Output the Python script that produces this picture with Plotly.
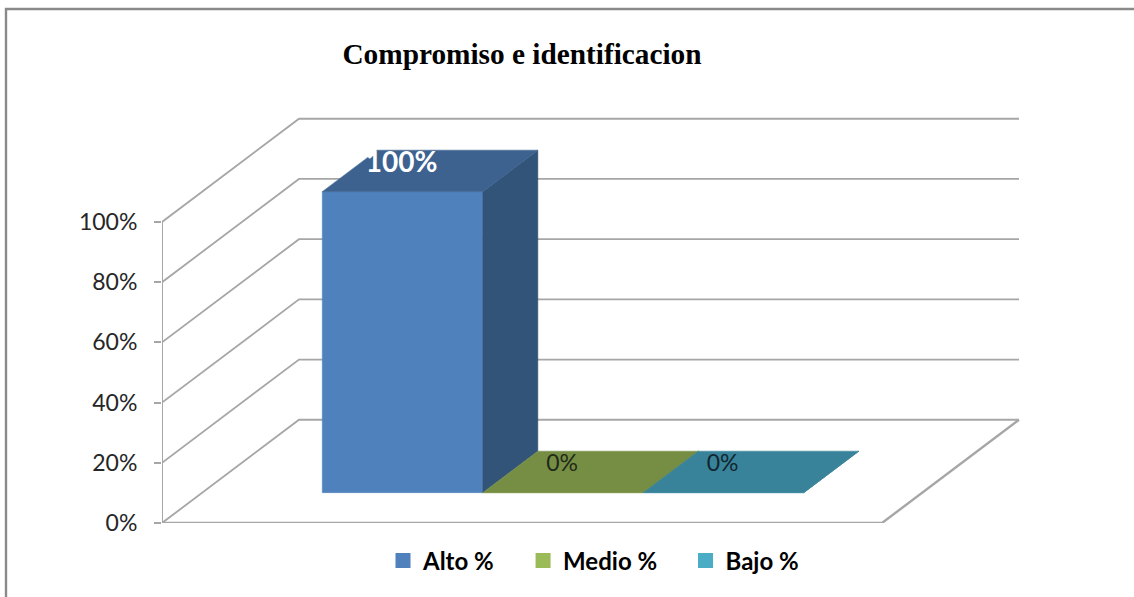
import plotly.graph_objects as go

# ---- data ----
series = ["Alto %", "Medio %", "Bajo %"]
values = [100, 0, 0]
value_labels = ["100%", "0%", "0%"]
tick_vals = [0, 20, 40, 60, 80, 100]
tick_text = ["0%", "20%", "40%", "60%", "80%", "100%"]
front_colors = ["#4F81BD", "#9BBB59", "#4BACC6"]
side_colors = ["#325479", "#617A39", "#2F7C90"]
top_colors = ["#3D628F", "#768E44", "#38839A"]
label_colors = ["#FFFFFF", "#1F2A1A", "#12262E"]
label_sizes = [28, 23, 23]
label_weights = ["bold", "normal", "normal"]
title_text = "Compromiso e identificacion"

# ---- oblique projection of the fake 3-D scene ----
UNIT_PX = 160.5           # one bar width in pixels
PLOT_W = 972
TOP_PX = 100              # plot area top, in pixels
BOTTOM_PX = 523           # plot area bottom, in pixels
Y_TOP = (BOTTOM_PX - TOP_PX) / 3.01
GRID_COLOR = "#A6A6A6"
DX = 137 / UNIT_PX        # x shift of the full floor depth
DY = 34.3                 # y shift of the full floor depth, in % units
FLOOR_W = 720 / UNIT_PX
BACK_W = 720 / UNIT_PX
GAP = 120 / UNIT_PX
D0, D1 = 0.294, 0.696     # bar front and back depth


def project(u, v, d):
    return u + d * DX, v + d * DY


def poly(points):
    xs, ys = zip(*[project(*p) for p in points])
    return list(xs) + [xs[0]], list(ys) + [ys[0]]


fig = go.Figure()

# walls and floor
gx, gy = [], []
for v in tick_vals:
    a = project(0, v, 0)
    b = project(0, v, 1)
    c = project(BACK_W, v, 1)
    gx += [a[0], b[0], c[0], None]
    gy += [a[1], b[1], c[1], None]
fig.add_trace(go.Scatter(x=gx, y=gy, mode="lines", cliponaxis=False, showlegend=False,
                         hoverinfo="skip", line=dict(color=GRID_COLOR, width=1.8)))
fx, fy = zip(*[project(0, 0, 0), project(FLOOR_W, 0, 0), project(FLOOR_W, 0, 1)])
fig.add_trace(go.Scatter(x=list(fx), y=list(fy), mode="lines", cliponaxis=False, showlegend=False,
                         hoverinfo="skip", line=dict(color=GRID_COLOR, width=2.4)))
# value axis line, only as far as the last tick
fig.add_trace(go.Scatter(x=[0, 0], y=[tick_vals[0], tick_vals[-1]], mode="lines", cliponaxis=False,
                         showlegend=False, hoverinfo="skip", line=dict(color=GRID_COLOR, width=2)))

# bars
for i, val in enumerate(values):
    u0, u1 = GAP + i, GAP + i + 1
    faces = [
        ([(u0, 0, D0), (u1, 0, D0), (u1, val, D0), (u0, val, D0)], front_colors[i]),
        ([(u1, 0, D0), (u1, 0, D1), (u1, val, D1), (u1, val, D0)], side_colors[i]),
        ([(u0, val, D0), (u1, val, D0), (u1, val, D1), (u0, val, D1)], top_colors[i]),
    ]
    for pts, col in faces:
        x, y = poly(pts)
        fig.add_trace(go.Scatter(x=x, y=y, mode="lines", fill="toself", fillcolor=col,
                                 line=dict(color=col, width=0.5), cliponaxis=False,
                                 showlegend=False, hoverinfo="skip"))

# value labels
for i, val in enumerate(values):
    x, y = project(GAP + i + 0.5, val, D0)
    fig.add_trace(go.Scatter(x=[x - 0.006], y=[y + 9], mode="text",
                             text=[value_labels[i]], textposition="middle center",
                             textfont=dict(family="Lato", size=label_sizes[i], color=label_colors[i],
                                           weight=label_weights[i]),
                             cliponaxis=False, showlegend=False, hoverinfo="skip"))

# legend
for i, name in enumerate(series):
    pad = "\u00a0" * [4, 4, 0][i]
    fig.add_trace(go.Scatter(x=[None], y=[None], mode="markers", name=name + pad,
                             marker=dict(symbol="square", size=15, color=front_colors[i])))

# frame of the picture
fig.add_shape(type="path", xref="paper", yref="paper",
              path="M %f,-0.2 L %f,%f L 1,%f" % (-156 / PLOT_W, -156 / PLOT_W,
                                                 (BOTTOM_PX - 9) / (BOTTOM_PX - TOP_PX),
                                                 (BOTTOM_PX - 9) / (BOTTOM_PX - TOP_PX)),
              line=dict(color="#8A8A8A", width=2.4))

fig.update_layout(
    width=1134, height=597,
    margin=dict(l=162, r=0, t=TOP_PX, b=597 - BOTTOM_PX, autoexpand=False),
    paper_bgcolor="white", plot_bgcolor="white",
    title=dict(text="<b>%s</b>" % title_text, xref="container", yref="container",
               x=522 / 1134, y=1 - 54 / 597, xanchor="center", yanchor="middle",
               font=dict(family="Liberation Serif", size=29.3, color="black")),
    xaxis=dict(range=[0, PLOT_W / UNIT_PX], visible=False),
    yaxis=dict(range=[0, Y_TOP], tickvals=tick_vals, ticktext=tick_text, ticks="outside",
               ticklen=7, tickwidth=1.8, tickcolor=GRID_COLOR, showline=False,
               showgrid=False, zeroline=False, ticklabelstandoff=12,
               tickfont=dict(family="Lato", size=23, color="#262626")),
    legend=dict(orientation="h", xanchor="left", yanchor="middle", x=(383 - 162) / PLOT_W,
                y=(BOTTOM_PX - 561) / (BOTTOM_PX - TOP_PX), bgcolor="rgba(0,0,0,0)", itemclick=False,
                font=dict(family="Lato", size=24, color="black", weight="bold")),
    showlegend=True,
)

fig.write_html("out.html", config={"displayModeBar": False},
               post_script="document.body.style.margin='0';")
